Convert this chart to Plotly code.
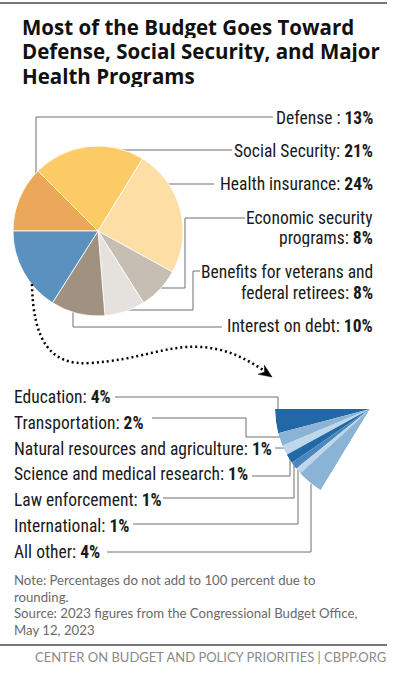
import math
import plotly.graph_objects as go

W, H = 394, 680

# ---------------- data ----------------
main_labels = ["Defense", "Social Security", "Health insurance", "Economic security programs",
               "Benefits for veterans and federal retirees", "Interest on debt", "Other"]
main_values = [12.5, 21.3, 24.2, 8.0, 7.7, 10.3, 16.0]
main_colors = ["#EBA85A", "#FDCB65", "#FDDFA6", "#C6BEB2", "#E5E1DD", "#A09180", "#5A91BE"]

sub_labels = ["Education", "Transportation", "Natural resources and agriculture",
              "Science and medical research", "Law enforcement", "International", "All other"]
sub_values = [4.1, 2.2, 1.7, 1.6, 1.2, 1.1, 4.4]
sub_colors = ["#2268A6", "#8AB3D5", "#BFD7EA", "#2268A6", "#4B86BD", "#BFD7EA", "#8AB3D5"]

# label texts (as printed)
main_text = [["Defense : <b>13%</b>"], ["Social Security: <b>21%</b>"], ["Health insurance: <b>24%</b>"],
             ["Economic security", "programs: <b>8%</b>"],
             ["Benefits for veterans and", "federal retirees: <b>8%</b>"],
             ["Interest on debt: <b>10%</b>"]]
sub_text = ["Education: <b>4%</b>", "Transportation: <b>2%</b>",
            "Natural resources and agriculture: <b>1%</b>", "Science and medical research: <b>1%</b>",
            "Law enforcement: <b>1%</b>", "International: <b>1%</b>", "All other: <b>4%</b>"]

title_lines = ["Most of the Budget Goes Toward", "Defense, Social Security, and Major", "Health Programs"]
note_lines = ["Note: Percentages do not add to 100 percent due to", "rounding.",
              "Source: 2023 figures from the Congressional Budget Office,", "May 12, 2023"]
footer = "CENTER ON BUDGET AND POLICY PRIORITIES | CBPP.ORG"


def px(x):
    return x / W


def py(y):
    return 1 - y / H


fig = go.Figure()

# main pie: center (98,231), r 85
cx, cy, r = 98, 231, 85
fig.add_trace(go.Pie(
    labels=main_labels, values=main_values, sort=False, direction="clockwise", rotation=-90,
    marker=dict(colors=main_colors, line=dict(color="white", width=0.8)),
    textinfo="none", hoverinfo="label+value", showlegend=False,
    domain=dict(x=[px(cx - r), px(cx + r)], y=[py(cy + r), py(cy - r)]),
))

# exploded "other" slice as a fan (barpolar in a sector)
total = sum(sub_values)
thetas, widths = [], []
acc = 0
for v in sub_values:
    w = v * 3.6
    thetas.append(180 + acc + w / 2)
    widths.append(w)
    acc += w
sector_end = 180 + total * 3.6
fx, fy, fr = 370, 409, 95
fh = fr * math.sin(math.radians(sector_end - 180))
fig.add_trace(go.Barpolar(
    r=[1] * len(sub_values), theta=thetas, width=widths,
    marker=dict(color=sub_colors, line=dict(width=0)),
    text=sub_labels, hoverinfo="text", showlegend=False, subplot="polar",
))
fig.update_layout(polar=dict(
    domain=dict(x=[px(fx - fr), px(fx)], y=[py(fy + fh), py(fy)]),
    sector=[180, sector_end], bgcolor="rgba(0,0,0,0)", hole=0,
    radialaxis=dict(visible=False, range=[0, 1]),
    angularaxis=dict(visible=False, rotation=0, direction="counterclockwise"),
))

shapes = []
LC = "#6f6f6f"


def poly(pts, color=LC, width=1, dash=None, layer="below"):
    d = "M " + " L ".join(f"{px(x)},{py(y)}" for x, y in pts)
    ln = dict(color=color, width=width)
    if dash:
        ln["dash"] = dash
    shapes.append(dict(type="path", xref="paper", yref="paper", path=d, line=ln, layer=layer))


# top / bottom rules
poly([(0, 3), (387, 3)], color="#777777", width=2, layer="above")
poly([(0, 645), (387, 645)], color="#777777", width=2, layer="above")

# leader lines for main pie
poly([(273, 117), (36, 117), (36, 176)])
poly([(232, 150), (120, 150)])
poly([(214, 184), (165, 184)])
poly([(245, 218), (185, 218), (185, 288), (156, 288)])
poly([(200, 271), (193, 271), (193, 310), (124, 310)])
poly([(222, 327), (73, 327), (73, 308)])

# leader lines for fan
poly([(115, 397), (278, 397), (278, 413)])
poly([(152, 418), (246, 418), (246, 437), (285, 437)])
poly([(275, 448), (290, 448)])
poly([(252, 476), (290, 476), (290, 456)])
poly([(163, 498), (294, 498), (294, 462)])
poly([(133, 524), (298, 524), (298, 464)])
poly([(107, 552), (311, 552), (311, 484)])

# dotted connector curve
curve = (f"M {px(32)},{py(284)} C {px(33)},{py(340)} {px(50)},{py(366)} {px(90)},{py(363)} "
         f"C {px(140)},{py(360)} {px(165)},{py(345)} {px(200)},{py(347)} "
         f"C {px(225)},{py(348)} {px(245)},{py(358)} {px(263)},{py(370)}")
shapes.append(dict(type="path", xref="paper", yref="paper", path=curve,
                   line=dict(color="black", width=2.5, dash="2px,3px"), layer="above"))
# arrow head
tip = (272, 377)
dx, dy = 0.826, 0.563
nx, ny = -dy, dx
back = (tip[0] - 13 * dx, tip[1] - 13 * dy)
notch = (tip[0] - 9 * dx, tip[1] - 9 * dy)
w1 = (back[0] + 5.5 * nx, back[1] + 5.5 * ny)
w2 = (back[0] - 5.5 * nx, back[1] - 5.5 * ny)
ah = "M " + " L ".join(f"{px(x)},{py(y)}" for x, y in [tip, w1, notch, w2]) + " Z"
shapes.append(dict(type="path", xref="paper", yref="paper", path=ah,
                   fillcolor="black", line=dict(color="black", width=0.5), layer="above"))

ann = []
TF = "Open Sans"
LF = "Roboto Condensed"
NF = "Lato"


def text(x, y, s, size, family, color="#1a1a1a", xanchor="left", height=None):
    a = dict(x=px(x), y=py(y), xref="paper", yref="paper", text=s, showarrow=False,
             xanchor=xanchor, yanchor="middle",
             font=dict(size=size, family=family, color=color))
    if height:
        a["height"] = height
    ann.append(a)


for i, s in enumerate(title_lines):
    text(20, 27 + i * 24, f"<b>{s}</b>", 20.5, TF, color="#111111", height=23)

main_y = [[117], [150], [184], [218, 238], [271, 292], [325]]
for lines, ys in zip(main_text, main_y):
    for s, y in zip(lines, ys):
        text(375, y, s, 17.5, LF, xanchor="right", height=19)

for i, s in enumerate(sub_text):
    text(12, 397 + i * 25.8, s, 17.5, LF, height=20)

for i, s in enumerate(note_lines):
    text(12, 580 + i * 16.7, s, 13.2, NF, color="#6a6a6a", height=16)

text(388, 657, footer, 13, NF, color="#8a8a8a", xanchor="right")

fig.update_layout(width=W, height=H, margin=dict(l=0, r=0, t=0, b=0),
                  paper_bgcolor="white", plot_bgcolor="white",
                  shapes=shapes, annotations=ann, showlegend=False)

fig.write_html("out.html", config={"displayModeBar": False},
               post_script="document.body.style.margin='0';")
